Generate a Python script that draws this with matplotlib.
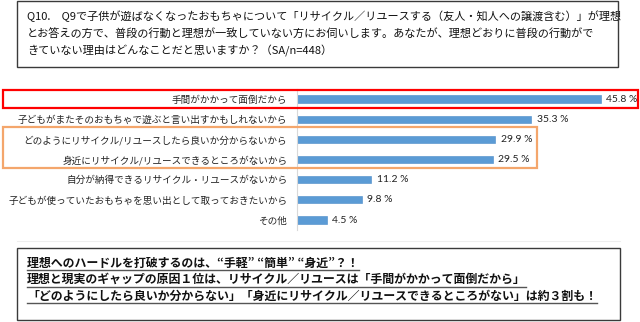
import matplotlib
matplotlib.use("Agg")
import matplotlib.pyplot as plt
from matplotlib.patches import Rectangle
from matplotlib.lines import Line2D

plt.rcParams['font.family'] = ['Noto Sans CJK JP', 'DejaVu Sans']

categories = [
    "手間がかかって面倒だから",
    "子どもがまたそのおもちゃで遊ぶと言い出すかもしれないから",
    "どのようにリサイクル/リユースしたら良いか分からないから",
    "身近にリサイクル/リユースできるところがないから",
    "自分が納得できるリサイクル・リユースがないから",
    "子どもが使っていたおもちゃを思い出として取っておきたいから",
    "その他",
]
values = [45.8, 35.3, 29.9, 29.5, 11.2, 9.8, 4.5]

question_lines = [
    "Q10.　Q9で子供が遊ばなくなったおもちゃについて「リサイクル／リユースする（友人・知人への譲渡含む）」が理想",
    "とお答えの方で、普段の行動と理想が一致していない方にお伺いします。あなたが、理想どおりに普段の行動がで",
    "きていない理由はどんなことだと思いますか？（SA/n=448）",
]
summary_lines = [
    "理想へのハードルを打破するのは、“手軽” “簡単” “身近”？！",
    "理想と現実のギャップの原因１位は、リサイクル／リユースは「手間がかかって面倒だから」",
    "「どのようにしたら良いか分からない」「身近にリサイクル／リユースできるところがない」は約３割も！",
]

W, H = 640, 322
fig = plt.figure(figsize=(W / 100, H / 100), dpi=100)
fig.patch.set_facecolor("white")


def fx(px):
    return px / W


def fy(py):
    return 1 - py / H


def box(x0, y0, x1, y1, color, lw):
    fig.patches.append(Rectangle((fx(x0), fy(y1)), fx(x1) - fx(x0), fy(y0) - fy(y1),
                                 transform=fig.transFigure, fill=False,
                                 edgecolor=color, linewidth=lw, zorder=5))


# question box
box(17, 1, 618, 67, "#3a3a3a", 1.0)
for i, line in enumerate(question_lines):
    fig.text(fx(27), fy(16 + i * 17.5), line, fontsize=8.0, va="center", ha="left",
             color="#111111")

# bar chart
row_h = 20.17
ax_left, ax_top = 297, 99 - row_h / 2
ax_h = row_h * 7
ax_w = 6.638 * 50
ax = fig.add_axes([fx(ax_left), fy(ax_top + ax_h), fx(ax_w), ax_h / H])
ypos = list(range(len(categories)))
ax.barh(ypos, values, height=0.36, color="#5B9BD5", edgecolor="#4A8AC8", linewidth=0.4)
ax.set_xlim(0, 50)
ax.set_ylim(len(categories) - 0.5, -0.5)
ax.set_yticks(ypos)
ax.set_yticklabels(categories, fontsize=6.9, color="#222222")
ax.tick_params(axis="y", length=0, pad=7)
ax.set_xticks([])
for s in ("top", "right", "bottom"):
    ax.spines[s].set_visible(False)
ax.spines["left"].set_color("#D9D9D9")
ax.spines["left"].set_linewidth(0.8)
ax.patch.set_alpha(0)
for y, v in zip(ypos, values):
    ax.text(v + 0.8, y, f"{v:.1f} %", fontsize=7.5, va="center", ha="left",
            color="#222222", family=["Lato", "DejaVu Sans"])

# highlight frames
box(3, 90, 638, 108, "#FF0000", 1.6)
box(3, 127, 537, 168, "#F4A66C", 1.6)

# summary box
fig.add_artist(Line2D([fx(17), fx(620)], [fy(241), fy(241)], transform=fig.transFigure,
                      color="#EEEEEE", linewidth=0.8))
box(17, 248, 620, 320, "#3a3a3a", 1.0)
texts = []
for i, line in enumerate(summary_lines):
    t = fig.text(fx(27), fy(263 + i * 16.5), line, fontsize=8.6, fontweight="bold",
                 va="center", ha="left", color="#111111")
    texts.append(t)

fig.canvas.draw()
renderer = fig.canvas.get_renderer()
for t in texts:
    bb = t.get_window_extent(renderer=renderer)
    yline = bb.y0 - 0.5
    fig.add_artist(Line2D([bb.x0 / W, bb.x1 / W], [yline / H, yline / H],
                          transform=fig.transFigure, color="#555555", linewidth=1.0))

fig.savefig("out.png", dpi=100)
